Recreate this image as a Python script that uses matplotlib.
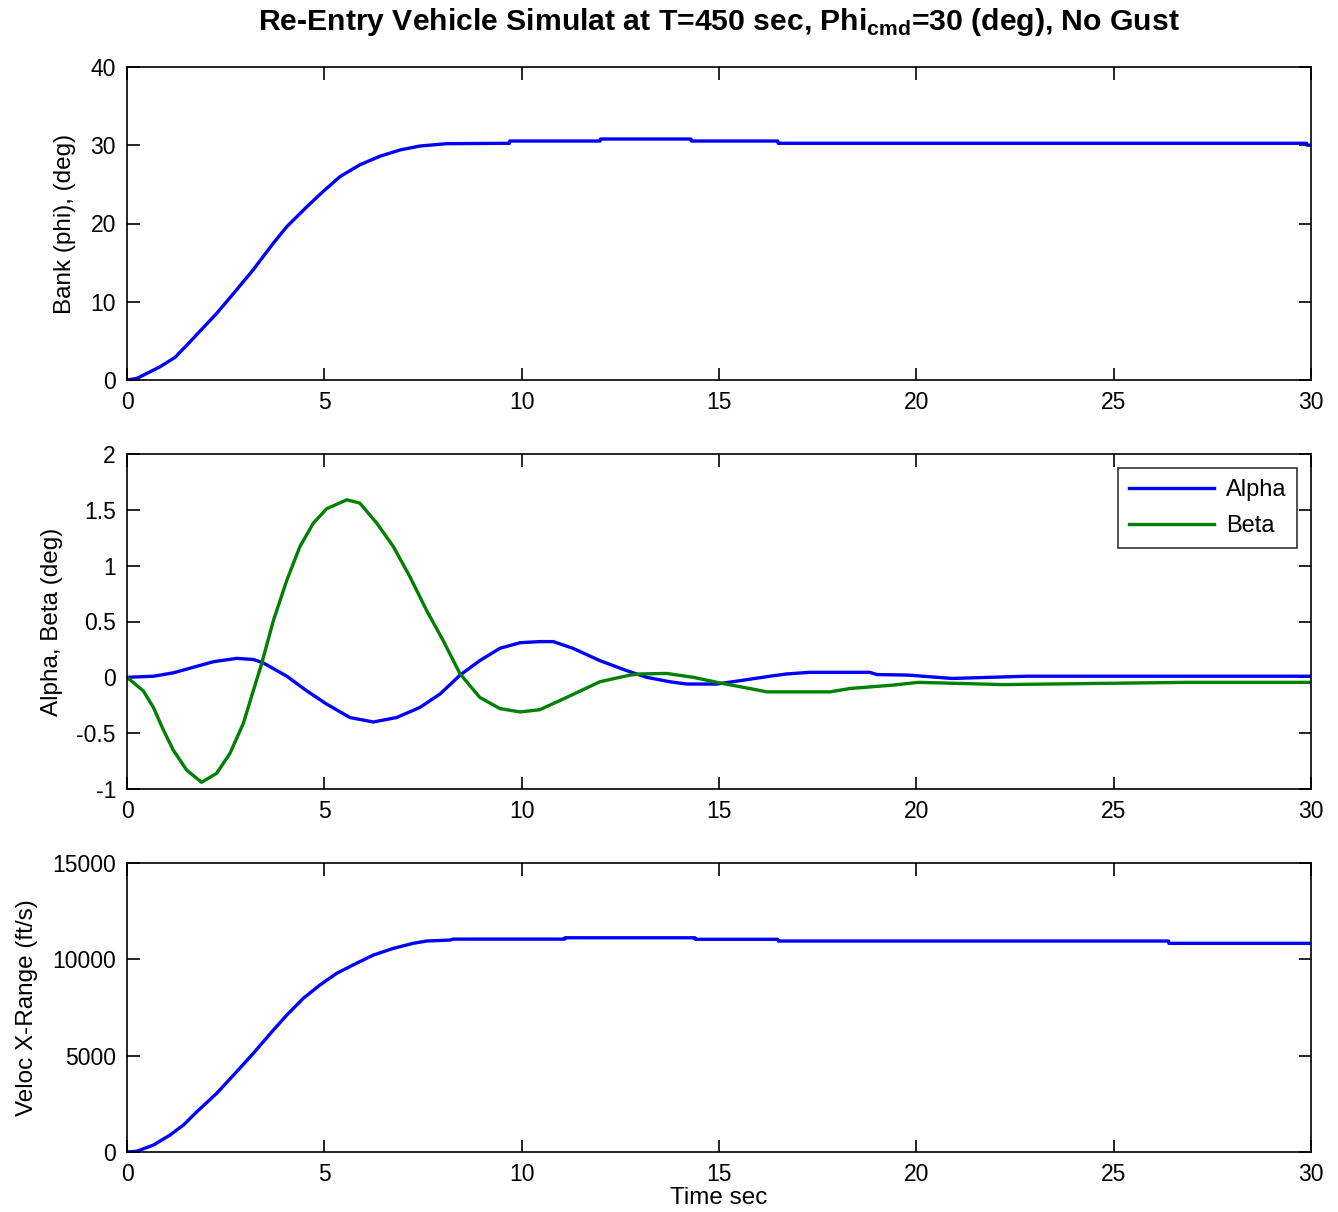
import numpy as np
import matplotlib.pyplot as plt

plt.rcParams['font.family'] = ['Liberation Sans', 'DejaVu Sans']
plt.rcParams['mathtext.fontset'] = 'custom'
plt.rcParams['mathtext.rm'] = 'Liberation Sans'
plt.rcParams['mathtext.bf'] = 'Liberation Sans:bold'

# ---------------------------------------------------------------- data
t_bank = [0, 0.25, 0.84, 1.22, 1.6, 2.27, 2.74, 3.2, 3.71, 4.05, 4.55, 4.97, 5.4, 5.9, 6.41,
          6.92, 7.42, 8.1, 9.69, 9.7, 11.99, 12.0, 14.29, 14.3, 16.49, 16.5, 29.89, 29.9, 30]
bank = [0, 0.2, 1.7, 2.9, 4.9, 8.5, 11.3, 14.1, 17.5, 19.6, 22.1, 24.1, 26.0, 27.5, 28.6,
        29.4, 29.9, 30.2, 30.25, 30.54, 30.54, 30.8, 30.8, 30.54, 30.54, 30.25, 30.25, 30.0, 30.0]

t_alpha = [0, 0.67, 1.17, 1.68, 2.19, 2.78, 3.2, 3.45, 4.05, 4.55, 5.06, 5.65, 6.24, 6.83,
           7.42, 7.93, 8.44, 8.94, 9.45, 9.96, 10.46, 10.8, 11.3, 11.98, 12.66, 13.17, 13.76,
           14.18, 14.94, 15.53, 16.29, 16.71, 17.3, 18.82, 19.0, 19.8, 20.9, 22.8, 30]
alpha = [0, 0.01, 0.04, 0.09, 0.14, 0.17, 0.16, 0.13, 0.01, -0.12, -0.24, -0.36, -0.40, -0.36,
         -0.27, -0.15, 0.02, 0.15, 0.26, 0.31, 0.32, 0.32, 0.26, 0.15, 0.06, 0.0, -0.04,
         -0.06, -0.06, -0.03, 0.01, 0.03, 0.045, 0.045, 0.025, 0.02, -0.01, 0.01, 0.01]

t_beta = [0, 0.41, 0.67, 0.92, 1.17, 1.51, 1.89, 2.27, 2.61, 2.95, 3.2, 3.41, 3.71, 4.05, 4.38,
          4.72, 5.06, 5.57, 5.9, 6.33, 6.75, 7.17, 7.59, 8.01, 8.44, 8.94, 9.45, 9.96, 10.46,
          11.14, 11.98, 12.74, 13.0, 13.67, 14.35, 15.02, 15.78, 16.21, 17.81, 18.32, 19.4,
          20.05, 22.2, 26.85, 30]
beta = [0, -0.12, -0.27, -0.47, -0.65, -0.83, -0.94, -0.86, -0.68, -0.41, -0.12, 0.12, 0.51,
        0.87, 1.17, 1.38, 1.51, 1.59, 1.56, 1.38, 1.17, 0.90, 0.60, 0.33, 0.03, -0.18, -0.28,
        -0.31, -0.29, -0.18, -0.04, 0.02, 0.03, 0.035, 0.0, -0.05, -0.10, -0.13, -0.13, -0.10,
        -0.07, -0.045, -0.065, -0.045, -0.045]

t_vel = [0, 0.25, 0.67, 1.09, 1.43, 1.77, 2.27, 2.78, 3.2, 3.71, 4.05, 4.47, 4.89, 5.31, 5.73,
         6.24, 6.75, 7.25, 7.59, 8.18, 8.27, 11.09, 11.1, 14.39, 14.4, 16.49, 16.5, 26.39,
         26.4, 30]
veloc = [0, 40, 360, 880, 1400, 2090, 3040, 4170, 5120, 6330, 7110, 7980, 8670, 9270, 9710,
         10220, 10570, 10830, 10950, 11000, 11050, 11050, 11120, 11120, 11040, 11040, 10950,
         10950, 10830, 10830]

xticks = [0, 5, 10, 15, 20, 25, 30]

# ---------------------------------------------------------------- figure
fig = plt.figure(figsize=(13.38, 12.12), dpi=100)
W, H = 1338.0, 1212.0
L, R = 127 / W, 1311 / W


def eixo(top, bottom):
    return fig.add_axes([L, 1 - bottom / H, R - L, (bottom - top) / H])


def estilo(ax):
    ax.tick_params(direction='in', top=True, right=True, length=9, width=1.2,
                   labelsize=16.5, pad=8)
    for s in ax.spines.values():
        s.set_linewidth(1.2)
    ax.set_xlim(0, 30)
    ax.set_xticks(xticks)


ax1 = eixo(67, 380)
ax1.plot(t_bank, bank, color='#0000ff', lw=2.4)
ax1.set_ylim(0, 40)
ax1.set_yticks([0, 10, 20, 30, 40])
ax1.set_ylabel('Bank (phi), (deg)', fontsize=17.5, labelpad=10)
estilo(ax1)

fig.text((L + R) / 2, 1 - 22 / H,
         'Re-Entry Vehicle Simulat at T=450 sec, Phi$_{\\mathbf{cmd}}$=30 (deg), No Gust',
         fontsize=21.7, fontweight='bold', ha='center', va='center')

ax2 = eixo(454, 789)
ax2.plot(t_alpha, alpha, color='#0000ff', lw=2.4, label='Alpha')
ax2.plot(t_beta, beta, color='#008000', lw=2.4, label='Beta')
ax2.set_ylim(-1, 2)
ax2.set_yticks([-1, -0.5, 0, 0.5, 1, 1.5, 2])
ax2.set_yticklabels(['-1', '-0.5', '0', '0.5', '1', '1.5', '2'])
ax2.set_ylabel('Alpha, Beta (deg)', fontsize=17.5, labelpad=10)
estilo(ax2)
leg = ax2.legend(loc='upper right', fontsize=17, fancybox=False, edgecolor='black',
                 handlelength=3.6, borderaxespad=0.6, labelspacing=0.6, handletextpad=0.5,
                 borderpad=0.45)
leg.get_frame().set_linewidth(1.2)

ax3 = eixo(863, 1152)
ax3.plot(t_vel, veloc, color='#0000ff', lw=2.4)
ax3.set_ylim(0, 15000)
ax3.set_yticks([0, 5000, 10000, 15000])
ax3.set_ylabel('Veloc X-Range (ft/s)', fontsize=17.5, labelpad=10)
ax3.set_xlabel('Time sec', fontsize=17.5, labelpad=1)
estilo(ax3)

fig.savefig('out.png', dpi=100)
